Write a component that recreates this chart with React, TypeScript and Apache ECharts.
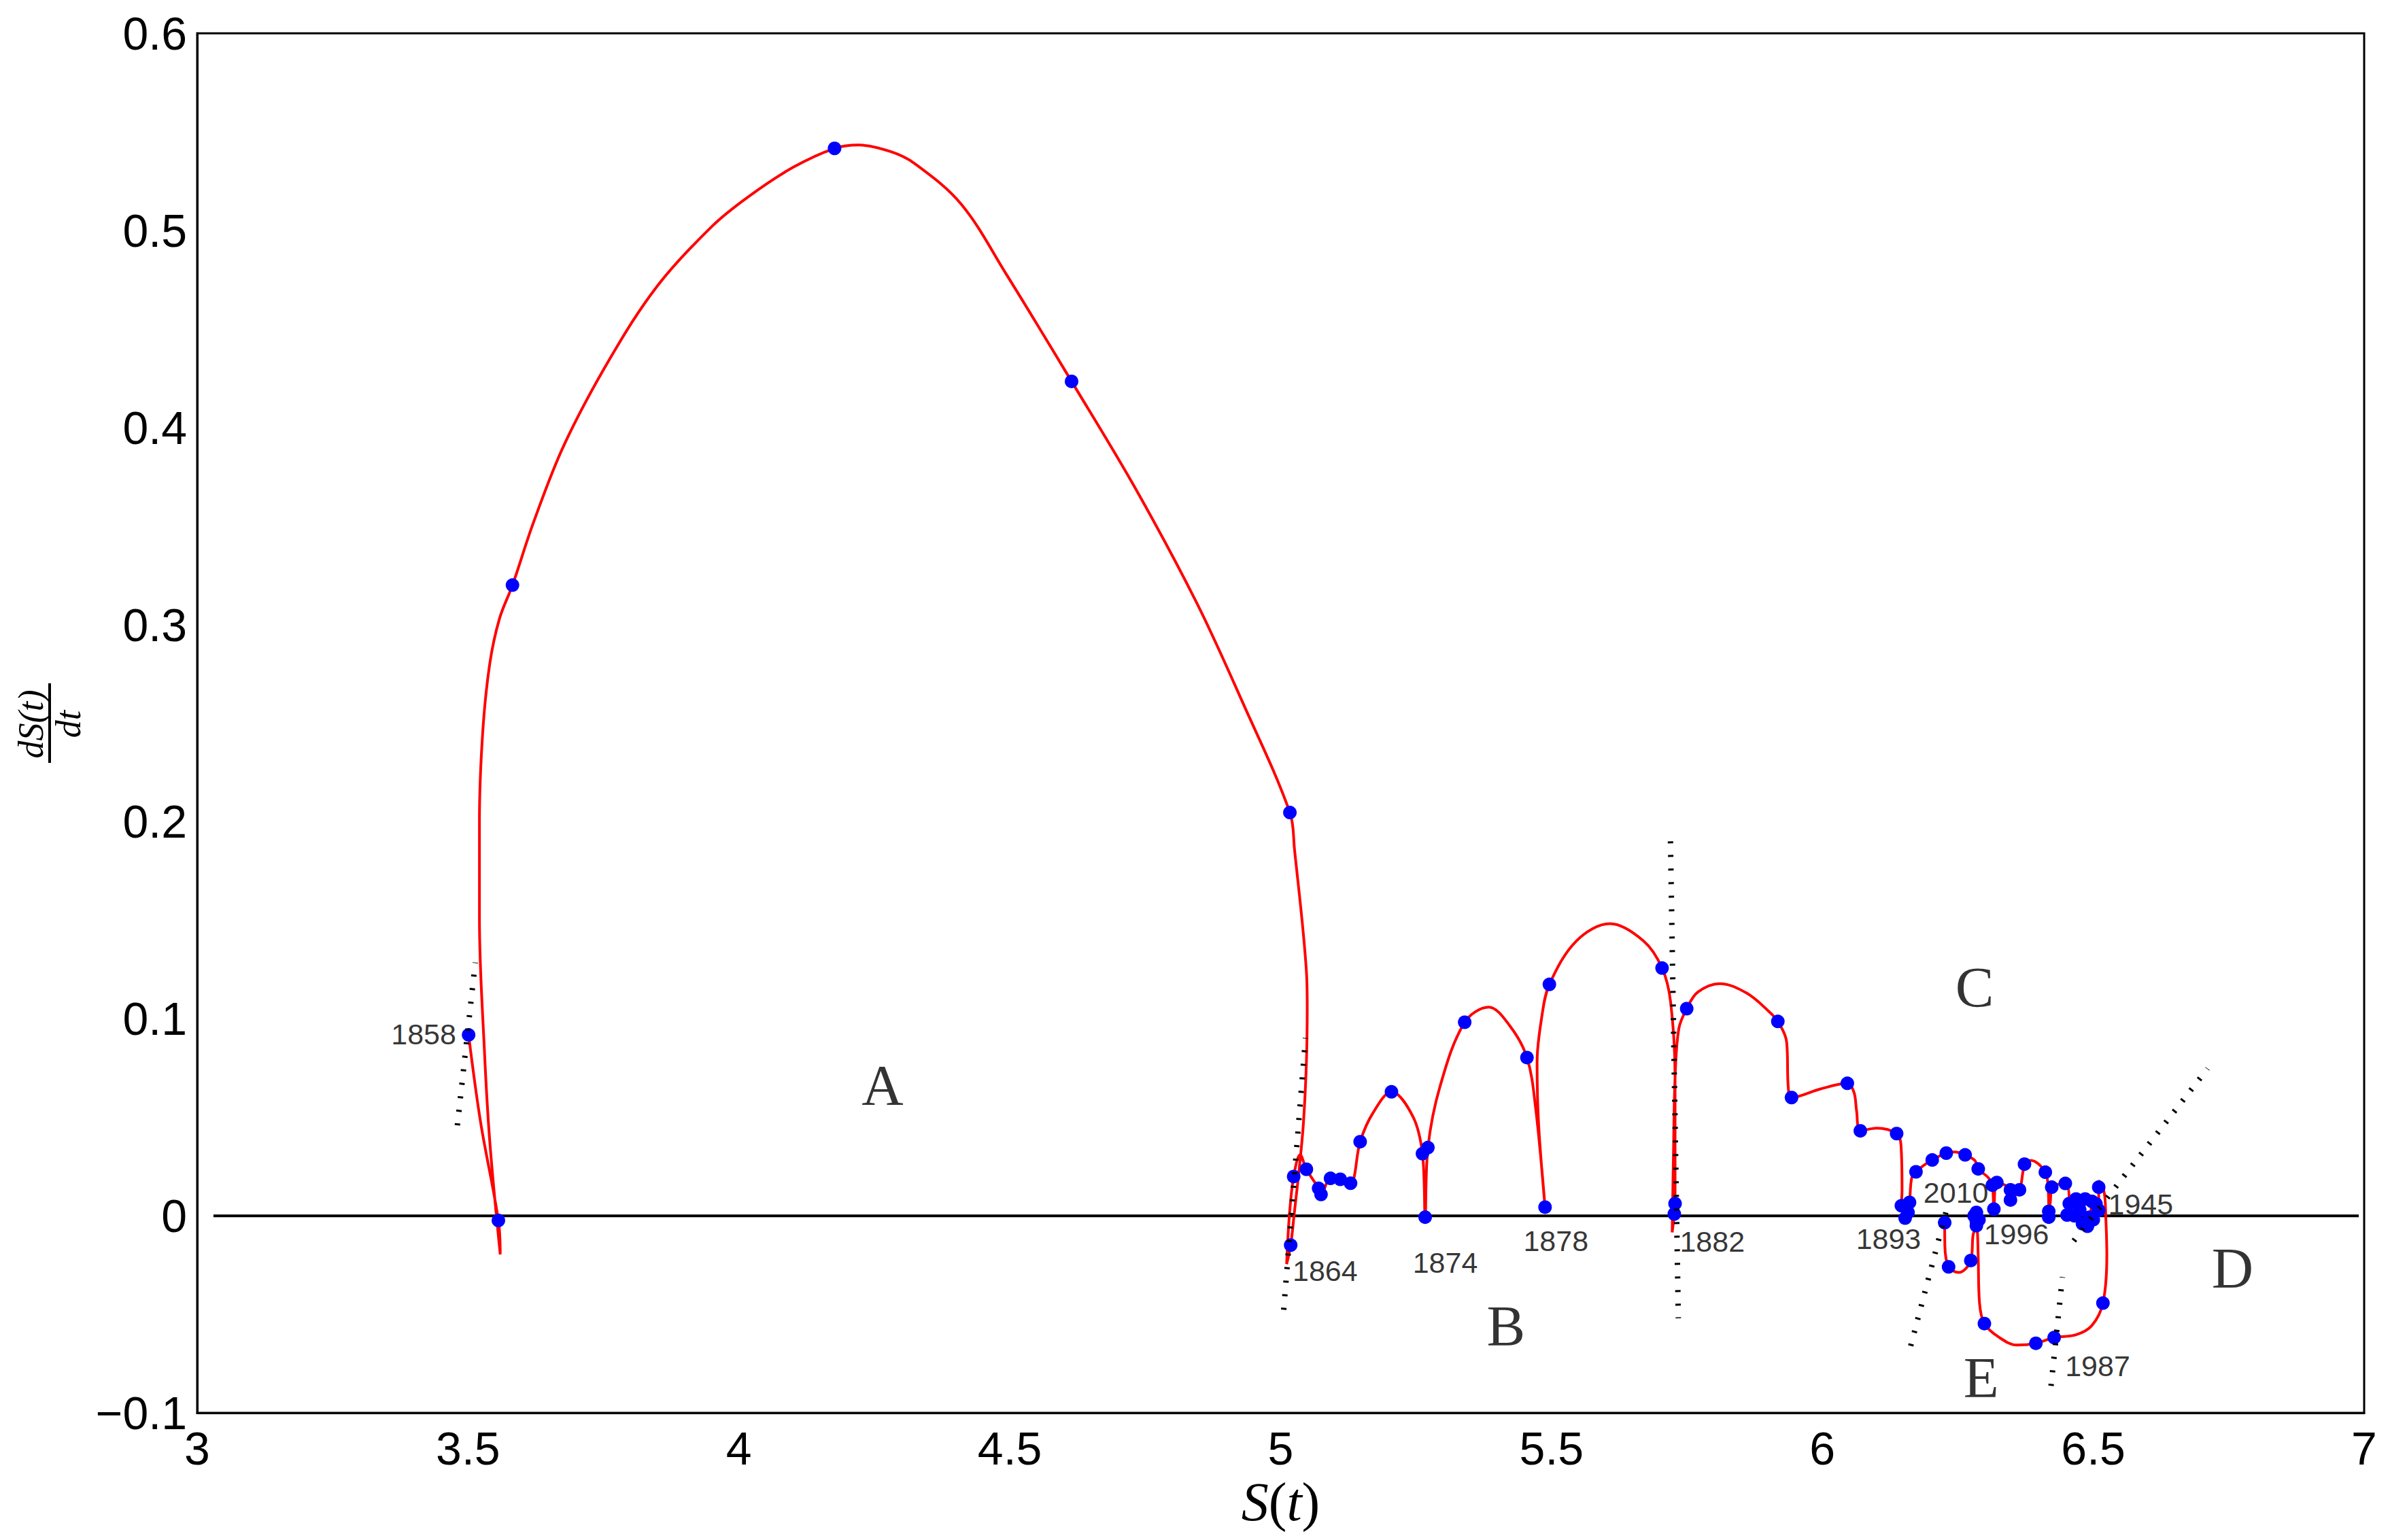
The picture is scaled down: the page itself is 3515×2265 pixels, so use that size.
import React, { useEffect, useRef } from "react";
import * as echarts from "echarts";

// ---- axis ticks ----
const xRange = [3, 7];
const xStep = 0.5;
const yRange = [-0.1, 0.6];
const yStep = 0.1;

const pointsA: [number, number][] = [
  [3.501, 0.0918], [3.556, -0.0024], [3.582, 0.32], [4.1765, 0.5416],
  [4.614, 0.4234], [5.017, 0.2046],
];
const pointsB: [number, number][] = [
  [5.0185, -0.0149], [5.024, 0.0199], [5.0475, 0.0236], [5.07, 0.0139],
  [5.0745, 0.0108], [5.092, 0.019], [5.11, 0.0185], [5.129, 0.0165],
  [5.1467, 0.0376], [5.2045, 0.0629], [5.2617, 0.0315], [5.2667, -0.0007],
  [5.2718, 0.0346], [5.3397, 0.0982], [5.4546, 0.0803], [5.488, 0.0044],
  [5.496, 0.1174], [5.704, 0.1257], [5.728, 0.0062], [5.7266, 0.0009],
  [5.7495, 0.1051],
];
const pointsC: [number, number][] = [
  [5.9177, 0.0986], [5.943, 0.06], [6.046, 0.0672], [6.07, 0.0431],
  [6.137, 0.0417], [6.1458, 0.0051], [6.1527, -0.0012], [6.158, 0.0017],
  [6.1608, 0.0068], [6.1727, 0.0223], [6.2027, 0.0283], [6.2286, 0.0318],
  [6.2634, 0.0309], [6.2876, 0.0238], [6.3137, 0.0155], [6.322, 0.0169],
  [6.3165, 0.0034], [6.3471, 0.0132], [6.3638, 0.0132], [6.3471, 0.008],
  [6.373, 0.0262], [6.4115, 0.0221], [6.4178, 0.0022], [6.4178, -0.0007],
  [6.4233, 0.0145], [6.4484, 0.0164],
];
const pointsD: [number, number][] = [
  [6.4557, 0.0062], [6.4682, 0.0085], [6.485, 0.0085], [6.4975, 0.0073],
  [6.51, 0.0028], [6.4933, -0.0007], [6.4892, -0.0053], [6.4516, 0.0004],
  [6.51, 0.0145], [6.475, 0.003], [6.5, -0.002], [6.48, -0.004],
  [6.465, 0.0], [6.505, 0.006],
];
const pointsE: [number, number][] = [
  [6.5178, -0.0443], [6.4278, -0.0618], [6.394, -0.0647], [6.299, -0.0547],
  [6.2842, 0.0017], [6.2842, -0.0029], [6.2842, -0.005], [6.28, 0.0],
  [6.289, -0.002], [6.2739, -0.0227], [6.2329, -0.0259], [6.2257, -0.0035],
];

// ---- the red trajectory in time order ----
const curvePath: [number, number][] = [
  [3.501, 0.0918], [3.523, 0.0477], [3.556, -0.0024], [3.5594, -0.0196],
  [3.5405, 0.0363], [3.5305, 0.0822], [3.521, 0.151], [3.521, 0.2],
  [3.527, 0.245], [3.54, 0.28], [3.558, 0.303], [3.582, 0.32],
  [3.621, 0.352], [3.677, 0.391], [3.762, 0.435], [3.85, 0.472],
  [3.95, 0.502], [4.017, 0.517], [4.1, 0.532], [4.1765, 0.5416],
  [4.2217, 0.5433], [4.28, 0.540], [4.324, 0.534], [4.41, 0.5134],
  [4.493, 0.478], [4.614, 0.4234], [4.732, 0.369], [4.845, 0.311],
  [4.929, 0.261], [5.017, 0.2046], [5.0255, 0.186],
  [5.0475, 0.124], [5.049, 0.1056], [5.0475, 0.0779], [5.042, 0.047],
  [5.0343, 0.024], [5.025, 0.001], [5.0185, -0.0149], [5.011, -0.0245],
  [5.016, 0.0], [5.024, 0.0199], [5.036, 0.031], [5.0475, 0.0236],
  [5.07, 0.0139], [5.0745, 0.0108], [5.092, 0.019], [5.11, 0.0185],
  [5.129, 0.0165], [5.1467, 0.0376], [5.17, 0.052], [5.2045, 0.0629],
  [5.2445, 0.0501], [5.2617, 0.0315], [5.2667, -0.0007], [5.2718, 0.0346],
  [5.294, 0.0655], [5.3397, 0.0982], [5.384, 0.1059], [5.4232, 0.0963],
  [5.4546, 0.0803], [5.4706, 0.0547], [5.488, 0.0044], [5.476, 0.047],
  [5.4733, 0.0779], [5.482, 0.101], [5.496, 0.1174], [5.546, 0.1395],
  [5.608, 0.1482], [5.6695, 0.1395], [5.704, 0.1257], [5.7197, 0.1086],
  [5.728, 0.07], [5.728, 0.03], [5.728, 0.0062], [5.7266, 0.0009],
  [5.7227, -0.0084], [5.725, 0.03], [5.728, 0.07], [5.735, 0.095],
  [5.7495, 0.1051], [5.77, 0.1135], [5.811, 0.1178], [5.86, 0.113],
  [5.9, 0.104], [5.9177, 0.0986], [5.934, 0.088], [5.937, 0.065],
  [5.943, 0.06], [5.9957, 0.0643], [6.046, 0.0672], [6.0583, 0.0626],
  [6.063, 0.0534], [6.07, 0.0431], [6.1, 0.0445], [6.137, 0.0417],
  [6.145, 0.036], [6.147, 0.013], [6.1458, 0.0051], [6.1527, -0.0012],
  [6.158, 0.0017], [6.1608, 0.0068], [6.1649, 0.0193], [6.1727, 0.0223],
  [6.1855, 0.0253], [6.2027, 0.0283], [6.2286, 0.0318], [6.2436, 0.0324],
  [6.2634, 0.0309], [6.2813, 0.0281], [6.2876, 0.0238], [6.3064, 0.0193],
  [6.3137, 0.0155], [6.3165, 0.0034], [6.322, 0.0169], [6.3471, 0.0132],
  [6.3471, 0.008], [6.3638, 0.0132], [6.37, 0.022], [6.373, 0.0262],
  [6.3845, 0.0281], [6.4115, 0.0221], [6.417, 0.012], [6.4178, 0.0022],
  [6.4178, -0.0007], [6.421, 0.008], [6.4233, 0.0145], [6.4484, 0.0164],
  [6.4557, 0.0062], [6.4516, 0.0004], [6.465, 0.0], [6.4682, 0.0085],
  [6.485, 0.0085], [6.4975, 0.0073], [6.4933, -0.0007], [6.4892, -0.0053],
  [6.5, -0.002], [6.51, 0.0028], [6.51, 0.0145], [6.5108, 0.0176],
  [6.52, 0.012], [6.523, 0.0], [6.525, -0.02], [6.5178, -0.0443],
  [6.497, -0.0558], [6.468, -0.0604], [6.4278, -0.0618], [6.394, -0.0647],
  [6.359, -0.0656], [6.3257, -0.0616], [6.299, -0.0547], [6.29, -0.0443],
  [6.2876, -0.0213], [6.286, -0.0075], [6.2842, -0.005], [6.2842, 0.0017],
  [6.2842, -0.0029], [6.278, -0.01], [6.2739, -0.0227], [6.2516, -0.0288],
  [6.2329, -0.0259], [6.226, -0.015], [6.2257, -0.0035],
];

// ---- dotted guide lines (start, end) ----
const guideLines: [number, number][][] = [
  [[3.4803, 0.0459], [3.5133, 0.1285]],
  [[5.0056, -0.0477], [5.0458, 0.0902]],
  [[5.7195, 0.19], [5.734, -0.052]],
  [[6.163, -0.066], [6.232, 0.006]],
  [[6.422, -0.0863], [6.443, -0.0311]],
  [[6.464, -0.0127], [6.711, 0.0747]],
];

// ---- year annotations (text centre) ----
const yearLabels: { text: string; at: [number, number] }[] = [
  { text: "1858", at: [3.418, 0.0923] },
  { text: "1864", at: [5.082, -0.028] },
  { text: "1874", at: [5.3037, -0.0238] },
  { text: "1878", at: [5.508, -0.0126] },
  { text: "1882", at: [5.7967, -0.0131] },
  { text: "1893", at: [6.122, -0.0118] },
  { text: "2010", at: [6.2465, 0.0117] },
  { text: "1996", at: [6.358, -0.0094] },
  { text: "1945", at: [6.5875, 0.006] },
  { text: "1987", at: [6.508, -0.0762] },
];

// ---- region letters ----
const regionLabels: { text: string; at: [number, number] }[] = [
  { text: "A", at: [4.265, 0.0663] },
  { text: "B", at: [5.416, -0.0558] },
  { text: "C", at: [6.281, 0.116] },
  { text: "D", at: [6.757, -0.0265] },
  { text: "E", at: [6.293, -0.082] },
];

const zeroLine: [number, number][] = [[3.03, 0], [6.99, 0]];

const SANS = "Liberation Sans";
const SERIF = "Liberation Serif";

export default function App() {
  const ref = useRef<HTMLDivElement>(null);
  useEffect(() => {
    if (!ref.current) return;
    const chart = echarts.init(ref.current, undefined, { renderer: "svg" });
    const series: any[] = [];
    series.push({
      type: "line",
      data: zeroLine,
      symbol: "none",
      lineStyle: { color: "#000", width: 4 },
      z: 1,
      silent: true,
    });
    series.push({
      type: "line",
      data: curvePath,
      symbol: "none",
      smooth: 0.35,
      lineStyle: { color: "#ff0000", width: 4 },
      z: 2,
      silent: true,
    });
    series.push({
      type: "scatter",
      data: [...pointsA, ...pointsB, ...pointsC, ...pointsD, ...pointsE],
      symbol: "circle",
      symbolSize: 20,
      itemStyle: { color: "#0000ff", opacity: 1 },
      z: 3,
      silent: true,
    });
    guideLines.forEach((g) => {
      series.push({
        type: "line",
        data: g,
        symbol: "none",
        lineStyle: { color: "#000", width: 8, type: [3, 17], cap: "butt" },
        z: 4,
        silent: true,
      });
    });
    series.push({
      type: "scatter",
      data: yearLabels.map((l) => ({ name: l.text, value: l.at })),
      symbolSize: 1,
      itemStyle: { color: "rgba(0,0,0,0)" },
      label: {
        show: true,
        position: "inside",
        formatter: "{b}",
        color: "#000",
        fontFamily: SANS,
        fontSize: 43,
        align: "center",
        verticalAlign: "middle",
      },
      z: 5,
      silent: true,
    });
    series.push({
      type: "scatter",
      data: regionLabels.map((l) => ({ name: l.text, value: l.at })),
      symbolSize: 1,
      itemStyle: { color: "rgba(0,0,0,0)" },
      label: {
        show: true,
        position: "inside",
        formatter: "{b}",
        color: "#000",
        fontFamily: SERIF,
        fontSize: 85,
        align: "center",
        verticalAlign: "middle",
      },
      z: 5,
      silent: true,
    });

    const fmt = (v: number) => {
      const r = Number(v.toFixed(2));
      return r < 0 ? "\u2212" + String(Math.abs(r)) : String(r);
    };

    chart.setOption({
      animation: false,
      backgroundColor: "#fff",
      grid: {
        left: 290,
        top: 49,
        width: 3187,
        height: 2029,
        show: true,
        borderColor: "#000",
        borderWidth: 3,
        backgroundColor: "rgba(0,0,0,0)",
      },
      xAxis: {
        type: "value",
        min: xRange[0],
        max: xRange[1],
        interval: xStep,
        axisLine: { show: true, onZero: false, lineStyle: { color: "#000", width: 3 } },
        axisTick: { show: false },
        splitLine: { show: false },
        axisLabel: { color: "#000", fontSize: 68, fontFamily: SANS, margin: 18, formatter: fmt },
        name: "{i|S}{r|(}{i|t}{r|)}",
        nameLocation: "middle",
        nameGap: 86,
        nameTextStyle: {
          rich: {
            i: { fontFamily: SERIF, fontStyle: "italic", fontSize: 80, color: "#000" },
            r: { fontFamily: SERIF, fontSize: 80, color: "#000" },
          },
        },
      },
      yAxis: {
        type: "value",
        min: yRange[0],
        max: yRange[1],
        interval: yStep,
        axisLine: { show: true, onZero: false, lineStyle: { color: "#000", width: 3 } },
        axisTick: { show: false },
        splitLine: { show: false },
        axisLabel: { color: "#000", fontSize: 68, fontFamily: SANS, margin: 15, formatter: fmt },
      },
      graphic: [
        {
          type: "text",
          x: 45,
          y: 1065,
          rotation: Math.PI / 2,
          style: {
            text: "dS(t)",
            font: `italic 52px ${SERIF}`,
            fill: "#000",
            textAlign: "center",
            textVerticalAlign: "middle",
          },
        },
        {
          type: "line",
          shape: { x1: 73, y1: 1005, x2: 73, y2: 1122 },
          style: { stroke: "#000", lineWidth: 4 },
        },
        {
          type: "text",
          x: 100,
          y: 1065,
          rotation: Math.PI / 2,
          style: {
            text: "dt",
            font: `italic 52px ${SERIF}`,
            fill: "#000",
            textAlign: "center",
            textVerticalAlign: "middle",
          },
        },
      ],
      series,
    });
    return () => chart.dispose();
  }, []);
  return (
    <div
      ref={ref}
      style={{ position: "absolute", left: 0, top: 0, width: 3515, height: 2265, background: "#fff" }}
    />
  );
}
